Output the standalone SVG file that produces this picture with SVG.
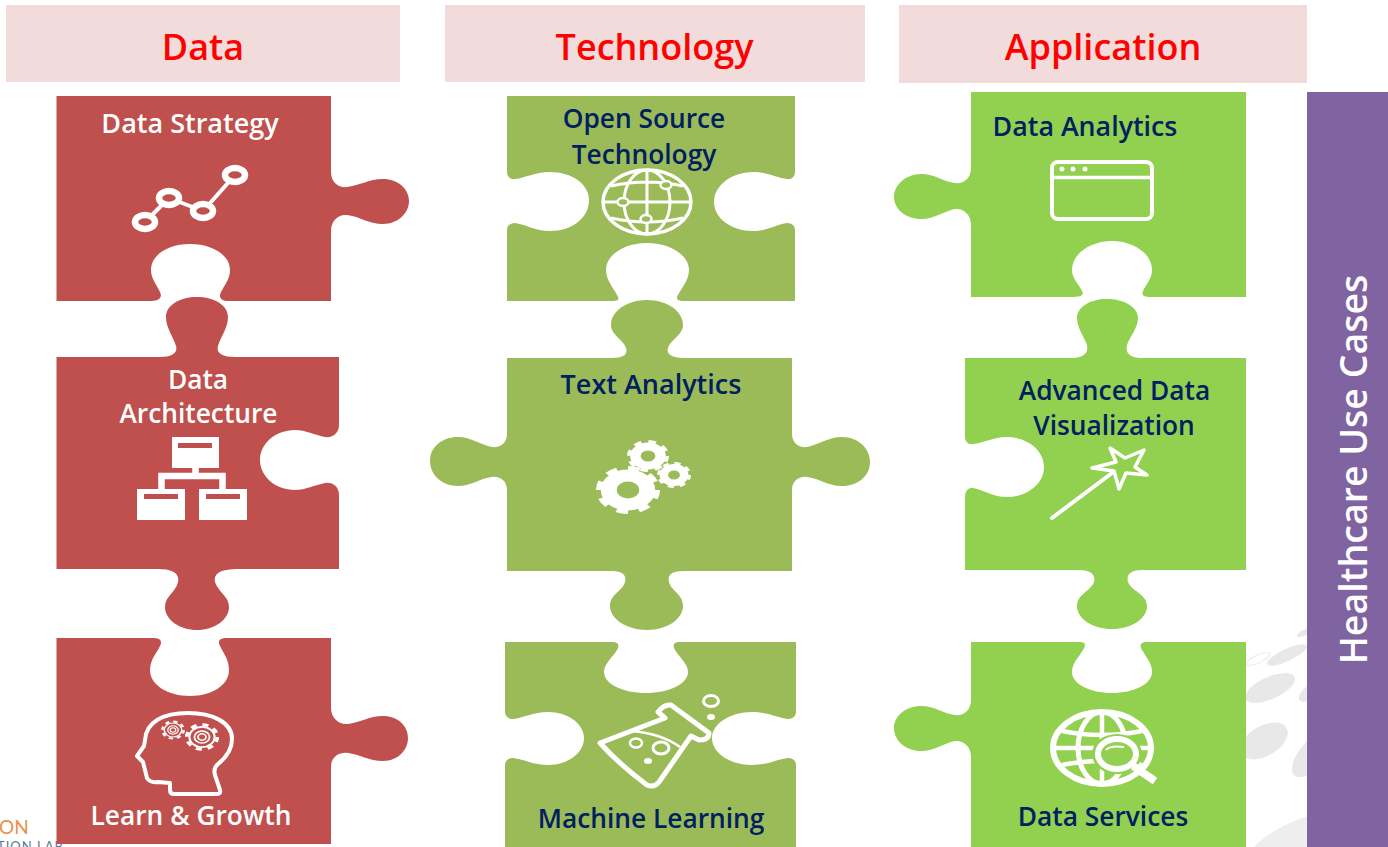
<svg xmlns="http://www.w3.org/2000/svg" width="1388" height="847" viewBox="0 0 1388 847">
<style>
.hdr{fill:#f2dcdb}
.ht{font:600 36px "Open Sans",sans-serif;fill:#ff0000;text-anchor:middle}
.red{fill:#c0504d}.olive{fill:#9bbb59}.lime{fill:#92d050}
.wt{font:600 26.300px "Open Sans",sans-serif;fill:#fff;text-anchor:middle}
.nt{font:600 26.300px "Open Sans",sans-serif;fill:#002060;text-anchor:middle}
.ln{fill:none;stroke:#fff;stroke-linecap:round;stroke-linejoin:round}
.wf{fill:#fff}
</style>
<defs>
<g id="gear"><circle r="6" fill="none" stroke="#fff" stroke-width="5"/><circle r="8.5" fill="none" stroke="#fff" stroke-width="3" stroke-dasharray="3.4 3.27"/></g>
<g id="bgear"><circle r="7" fill="none" stroke="#fff" stroke-width="1.2"/><circle r="8.5" fill="none" stroke="#fff" stroke-width="2" stroke-dasharray="3.4 3.27"/><circle r="4.2" fill="none" stroke="#fff" stroke-width="1"/><circle r="2.2" fill="none" stroke="#fff" stroke-width="1"/></g>
</defs>
<g id="watermark" fill="#e8e8e8">
<ellipse cx="1287" cy="655" rx="22" ry="6" transform="rotate(-25 1287 655)"/>
<ellipse cx="1258" cy="659" rx="13" ry="4" transform="rotate(-25 1258 659)" fill="none" stroke="#f0f0f0" stroke-width="1.500"/>
<ellipse cx="1270" cy="688" rx="27" ry="11" transform="rotate(-24 1270 688)"/>
<ellipse cx="1264" cy="741" rx="26" ry="15" transform="rotate(-30 1264 741)"/>
<ellipse cx="1311" cy="692" rx="14" ry="7" transform="rotate(-35 1311 692)"/>
<ellipse cx="1312" cy="755" rx="27" ry="13" transform="rotate(-50 1312 755)"/>
<ellipse cx="1325" cy="855" rx="85" ry="42" transform="rotate(-15 1325 855)" fill="#eeeeee"/>
<ellipse cx="1306" cy="632" rx="10" ry="3" transform="rotate(-25 1306 632)"/>
</g>
<g id="logo">
<text x="-1" y="834" font-family="Lato,sans-serif" font-size="19" fill="#e8914a">ON</text>
<text x="-3" y="851" font-family="Lato,sans-serif" font-size="13" letter-spacing="1" fill="#5a7a9a">TION LAB</text>
</g>
<g id="header-data"><rect class="hdr" x="6" y="5" width="394" height="77"/><text class="ht" x="203" y="60">Data</text></g>
<g id="header-technology"><rect class="hdr" x="445" y="5" width="420" height="77"/><text class="ht" x="654.500" y="60">Technology</text></g>
<g id="header-application"><rect class="hdr" x="899" y="5" width="408" height="78"/><text class="ht" x="1103" y="60">Application</text></g>
<g id="healthcare-use-cases"><rect x="1307" y="92" width="81" height="755" fill="#8064a2"/><text transform="translate(1367 469.500) rotate(-90)" font-family="Open Sans,sans-serif" font-weight="600" font-size="37.500" fill="#fff" text-anchor="middle">Healthcare Use Cases</text></g>

<g id="data-strategy">
<path class="red" d="M56.500 96H331V172C331 183 339 188 347 187C358 186 369 179 383 179C398 179 409 189 409 201C409 213 398 224 383 224C369 224 358 216 347 215C339 214 331 220 331 231V301H228C222 301 218 298 221 292C225 284 230 279 230 270C230 255 212 244 190 244C168 244 151 255 151 270C151 279 157 285 160 292C163 298 158 301 152 301H56.500Z"/>
<text class="wt" x="190" y="133" style="font-size:27px">Data Strategy</text>
<path class="ln" stroke-width="4" d="M145 222L169 198L203 211L235 175"/>
<ellipse cx="145" cy="222" rx="10" ry="7" fill="#c0504d" stroke="#fff" stroke-width="6.500"/>
<ellipse cx="169" cy="198" rx="10" ry="7" fill="#c0504d" stroke="#fff" stroke-width="6.500"/>
<ellipse cx="203" cy="211" rx="10" ry="7" fill="#c0504d" stroke="#fff" stroke-width="6.500"/>
<ellipse cx="235" cy="175" rx="10" ry="7" fill="#c0504d" stroke="#fff" stroke-width="6.500"/>
</g>

<g id="data-architecture">
<path class="red" d="M56.500 357H160C172 357 178 353 176 346C173 336 166 328 166 317C166 305 180 297 197 297C214 297 228 305 228 317C228 328 221 336 218 346C216 353 222 357 235 357H339V425C339 433 333 438 325 437C315 435 305 430 295 430C275 430 260 444 260 460C260 476 275 490 295 490C305 490 315 485 325 483C333 482 339 487 339 495V569H237C222 569 213 573 215 582C218 592 229 596 229 607C229 620 214 630 197 630C180 630 165 620 165 607C165 596 176 592 178 582C180 573 172 569 158 569H56.500Z"/>
<text class="wt" x="198" y="389">Data</text><text class="wt" x="198.500" y="423">Architecture</text>
<rect class="wf" x="172" y="437" width="47" height="31"/><rect class="red" x="178" y="443" width="34" height="5"/>
<path fill="none" stroke="#fff" stroke-width="6.500" d="M195.500 468V476M161.500 489V476H222.500V489"/>
<rect class="wf" x="137" y="489" width="48" height="31"/><rect class="red" x="144" y="494" width="34" height="5"/>
<rect class="wf" x="199" y="489" width="48" height="31"/><rect class="red" x="206" y="494" width="34" height="5"/>
</g>

<g id="learn-growth">
<path class="red" d="M56.500 638H153C159 638 163 640 160 646C156 654 150 660 150 670C150 685 168 696 190 696C212 696 229 685 229 670C229 660 224 654 220 646C217 640 221 638 227 638H331V708C331 718 339 725 348 724C359 723 369 716 383 716C398 716 408 726 408 738C408 750 398 761 383 761C369 761 359 754 348 753C339 752 331 757 331 767V844H56.500Z"/>
<path class="ln" stroke-width="4" d="M170 783V790Q170 794 174 794H217Q221 794 220 790L215 775Q213 768 218 764C227 757 232 748 232 739C232 722 212 713 188 713C163 713 146 722 145 740L144 746L137 756L143 762L145 770L147 778Q150 783 158 782Z"/>
<use href="#bgear" transform="translate(173 730) scale(1.250 1)"/>
<use href="#bgear" transform="translate(202 737) scale(1.800 1.450)"/>
<text class="wt" x="191" y="825">Learn &amp; Growth</text>
</g>

<g id="open-source-technology">
<path class="olive" d="M507 96H795V172C795 176 792 180 787 179C777 178 768 172 753 172C731 172 714 186 714 202C714 218 731 231 753 231C768 231 777 224 787 223C792 223 795 226 795 230V301H685C679 301 675 300 678 295C682 287 689 280 689 270C689 255 670 243 647 243C624 243 606 255 606 270C606 280 613 287 617 295C620 300 618 301 612 301H507V230C507 226 510 223 515 223C525 224 535 231 550 231C572 231 589 218 589 200C589 184 572 172 550 172C535 172 525 178 515 179C510 180 507 176 507 172Z"/>
<ellipse cx="647" cy="202" rx="44" ry="32" fill="none" stroke="#fff" stroke-width="3.500"/>
<ellipse cx="647" cy="202" rx="23" ry="32" fill="none" stroke="#fff" stroke-width="3"/>
<path fill="none" stroke="#fff" stroke-width="3" d="M647 170V234M603 202H691M611 186Q647 178 683 186M611 218Q647 226 683 218"/>
<ellipse cx="623" cy="202" rx="5.500" ry="4" fill="#9bbb59" stroke="#fff" stroke-width="2.500"/>
<ellipse cx="666" cy="185" rx="5.500" ry="4" fill="#9bbb59" stroke="#fff" stroke-width="2.500"/>
<ellipse cx="646" cy="219" rx="5.500" ry="4" fill="#9bbb59" stroke="#fff" stroke-width="2.500"/>
<text class="nt" x="644" y="128">Open Source</text><text class="nt" x="644" y="164">Technology</text>
</g>

<g id="text-analytics">
<path class="olive" d="M507 358H612C624 358 628 354 626 348C623 339 611 335 611 325C611 311 627 300 647 300C667 300 683 311 683 325C683 335 671 339 668 348C666 354 672 358 685 358H792V434C792 443 799 448 807 447C818 445 828 437 842 437C858 437 870 448 870 462C870 476 858 486 842 486C828 486 818 478 807 477C799 476 792 481 792 490V571H683C672 571 667 575 669 582C672 592 683 594 683 606C683 619 667 630 647 630C627 630 610 619 610 606C610 594 622 592 625 582C627 575 622 571 612 571H507V490C507 481 500 476 492 477C481 478 471 486 458 486C442 486 430 475 430 461C430 447 442 437 458 437C471 437 481 445 492 447C500 448 507 443 507 434Z"/>
<text class="nt" x="651" y="394" style="font-size:27px">Text Analytics</text>
<use href="#gear" transform="translate(628 490) scale(3.200 2.400)"/>
<use href="#gear" transform="translate(648 456) scale(2.100 1.600)"/>
<use href="#gear" transform="translate(674 475) scale(1.700 1.300)"/>
</g>

<g id="machine-learning">
<path class="olive" d="M505 642H612C618 642 620 645 617 650C612 658 604 664 604 672C604 684 623 693 646 693C669 693 688 684 688 672C688 664 680 658 675 650C672 645 674 642 680 642H796V712C796 716 793 719 788 719C778 718 768 712 752 712C730 712 712 724 712 738C712 753 730 765 752 765C768 765 778 759 788 758C793 758 796 761 796 765V847H505V765C505 761 508 758 513 758C523 759 533 765 548 765C568 765 584 753 584 738C584 724 568 712 548 712C533 712 523 718 513 719C508 719 505 716 505 712Z"/>
<path class="ln" stroke-width="5" d="M600 743L665 718L658 712Q664 704 671 705L709 733Q709 740 699 740L691 736L659 782Q654 788 647 785Q620 765 600 743Z"/>
<path fill="none" stroke="#fff" stroke-width="2.500" d="M631 731Q660 733 680 747"/>
<ellipse cx="636" cy="743" rx="6" ry="4.500" fill="none" stroke="#fff" stroke-width="2.500"/>
<ellipse cx="661" cy="748" rx="8" ry="6" fill="none" stroke="#fff" stroke-width="3"/>
<ellipse cx="648" cy="761" rx="4" ry="3" class="wf"/>
<ellipse cx="711" cy="701" rx="7.500" ry="5.500" fill="none" stroke="#fff" stroke-width="3"/>
<ellipse cx="711" cy="717" rx="4" ry="3" class="wf"/>
<text class="nt" x="651" y="828">Machine Learning</text>
</g>

<g id="data-analytics">
<path class="lime" d="M971 92H1246V297H1150C1145 297 1141 296 1143 291C1146 284 1152 279 1152 270C1152 254 1134 241 1112 241C1090 241 1072 254 1072 270C1072 279 1079 284 1082 291C1085 296 1079 297 1073 297H971V225C971 214 963 208 955 209C944 211 935 219 921 219C906 219 894 209 894 197C894 185 906 174 921 174C935 174 944 182 955 183C963 184 971 179 971 168Z"/>
<text class="nt" x="1085" y="136" style="font-size:26.800px">Data Analytics</text>
<rect x="1052" y="162" width="100" height="57" rx="6" fill="none" stroke="#fff" stroke-width="4"/>
<path fill="none" stroke="#fff" stroke-width="3.500" d="M1052 177.500H1152"/>
<g class="wf"><circle cx="1062" cy="169" r="2.500"/><circle cx="1073" cy="169" r="2.500"/><circle cx="1085" cy="169" r="2.500"/></g>
</g>

<g id="advanced-data-visualization">
<path class="lime" d="M965 358H1070C1082 358 1089 354 1087 345C1084 336 1077 328 1077 318C1077 307 1090 299 1107 299C1124 299 1138 307 1138 318C1138 328 1130 336 1127 345C1125 354 1131 358 1143 358H1246V570H1143C1131 570 1126 574 1128 582C1131 591 1147 594 1147 606C1147 619 1131 629 1112 629C1093 629 1077 619 1077 606C1077 594 1091 591 1094 582C1096 574 1090 570 1078 570H965V497C965 491 969 487 973 488C984 490 993 497 1007 497C1027 497 1044 484 1044 467C1044 450 1027 437 1007 437C993 437 984 443 973 444C969 445 965 442 965 437Z"/>
<text class="nt" x="1114.500" y="400">Advanced Data</text><text class="nt" x="1114" y="435">Visualization</text>
<path class="ln" stroke-width="4" d="M1052 518L1112 473"/>
<path class="ln" stroke-width="3.500" d="M1092 468L1116 462L1110 448L1125 458L1144 450L1135 467L1147 475L1126 473L1119 489L1114 471Z"/>
</g>

<g id="data-services">
<path class="lime" d="M971 642H1080C1086 642 1086 645 1083 650C1079 657 1072 663 1072 672C1072 684 1090 693 1112 693C1134 693 1152 684 1152 672C1152 663 1146 657 1142 650C1139 645 1141 642 1147 642H1246V847H971V757C971 746 963 740 955 741C944 743 935 751 921 751C906 751 894 741 894 728C894 716 906 706 921 706C935 706 944 714 955 715C963 716 971 711 971 700Z"/>
<ellipse cx="1102" cy="748" rx="49" ry="36" fill="none" stroke="#fff" stroke-width="6"/>
<ellipse cx="1102" cy="748" rx="24" ry="36" fill="none" stroke="#fff" stroke-width="5"/>
<path fill="none" stroke="#fff" stroke-width="4.500" d="M1102 712V784M1053 748H1151M1062 731Q1102 739 1142 731M1062 765Q1102 757 1142 765"/>
<ellipse cx="1117" cy="754" rx="25" ry="20" fill="#92d050"/>
<ellipse cx="1117" cy="754" rx="19" ry="15" fill="#92d050" stroke="#fff" stroke-width="6"/>
<path fill="none" stroke="#fff" stroke-width="8" d="M1133 766L1155 781"/>
<path fill="none" stroke="#fff" stroke-width="2" d="M1106 750Q1110 745 1124 747"/>
<text class="nt" x="1103" y="826">Data Services</text>
</g>
<g id="connectors"></g>
</svg>
